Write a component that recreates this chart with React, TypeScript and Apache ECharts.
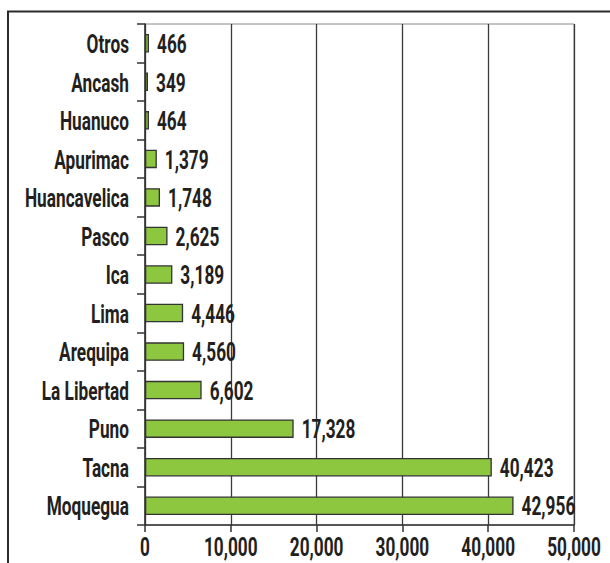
import React, { useEffect, useRef } from "react";
import * as echarts from "echarts";

const categories = ["Otros", "Ancash", "Huanuco", "Apurimac", "Huancavelica", "Pasco", "Ica", "Lima", "Arequipa", "La Libertad", "Puno", "Tacna", "Moquegua"];
const values = [466, 349, 464, 1379, 1748, 2625, 3189, 4446, 4560, 6602, 17328, 40423, 42956];
const xTicks = [0, 10000, 20000, 30000, 40000, 50000];

const FONT = "Roboto, 'Noto Sans', sans-serif";
const TXT = "#231f20";
const SX = 0.69;
const FS = 25;

const fmt = (v: number) => v.toLocaleString("en-US");

export default function App() {
  const ref = useRef<HTMLDivElement>(null);
  useEffect(() => {
    const chart = echarts.init(ref.current!, null, { renderer: "svg" });
    const textEl = (x: number, y: number, text: string, align: string) => ({
      type: "text",
      x,
      y,
      scaleX: SX,
      style: {
        text,
        x: 0,
        y: 0,
        align,
        verticalAlign: "middle",
        fontFamily: FONT,
        fontWeight: "bold",
        fontSize: FS,
        fill: TXT,
      },
    });
    chart.setOption({
      animation: false,
      backgroundColor: "#ffffff",
      grid: { left: 145, right: 36, top: 24, bottom: 38, show: true, borderColor: "#888", borderWidth: 1 },
      graphic: [
        { type: "rect", shape: { x: 8, y: 11.5, width: 640, height: 600 }, style: { fill: "none", stroke: "#2b2b2b", lineWidth: 2 }, silent: true },
      ],
      xAxis: {
        type: "value",
        min: xTicks[0],
        max: xTicks[xTicks.length - 1],
        interval: 10000,
        axisLine: { show: true, lineStyle: { color: "#333", width: 1.5 } },
        axisTick: { show: true, length: 7, lineStyle: { color: "#333", width: 1.5 } },
        splitLine: { show: true, lineStyle: { color: "#3a3a3a", width: 1.3 } },
        axisLabel: { show: false },
      },
      yAxis: {
        type: "category",
        data: categories,
        inverse: true,
        axisLine: { show: true, lineStyle: { color: "#333", width: 1.5 } },
        axisTick: { show: true, length: 8, lineStyle: { color: "#333", width: 1.5 } },
        axisLabel: { show: false },
      },
      series: [
        {
          type: "bar",
          data: values,
          barWidth: "48%",
          itemStyle: { color: "#8dc63f", borderColor: "#333", borderWidth: 1.3 },
          silent: true,
        },
        {
          type: "custom",
          name: "categoryLabels",
          silent: true,
          clip: false,
          z: 10,
          encode: { x: 0, y: 1 },
          data: categories.map((_, i) => [0, i]),
          renderItem: (params: any, api: any) => {
            const i = api.value(1);
            const p = api.coord([0, i]);
            return textEl(p[0] - 16, p[1] + 1, categories[i], "right");
          },
        },
        {
          type: "custom",
          name: "valueLabels",
          silent: true,
          clip: false,
          z: 10,
          encode: { x: 0, y: 1 },
          data: values.map((v, i) => [v, i]),
          renderItem: (params: any, api: any) => {
            const v = api.value(0);
            const i = api.value(1);
            const p = api.coord([v, i]);
            return textEl(p[0] + 8, p[1] + 1, fmt(values[i]), "left");
          },
        },
        {
          type: "custom",
          name: "xTickLabels",
          silent: true,
          clip: false,
          z: 10,
          encode: { x: 0, y: 1 },
          data: xTicks.map((v) => [v, categories.length - 1]),
          renderItem: (params: any, api: any) => {
            const v = api.value(0);
            const p = api.coord([v, categories.length - 1]);
            const band = api.size([0, 1])[1];
            return textEl(p[0], p[1] + band / 2 + 22, fmt(xTicks[params.dataIndex]), "center");
          },
        },
      ],
    });
    return () => chart.dispose();
  }, []);
  return <div ref={ref} style={{ position: "fixed", left: 0, top: 0, width: 610, height: 563 }} />;
}
